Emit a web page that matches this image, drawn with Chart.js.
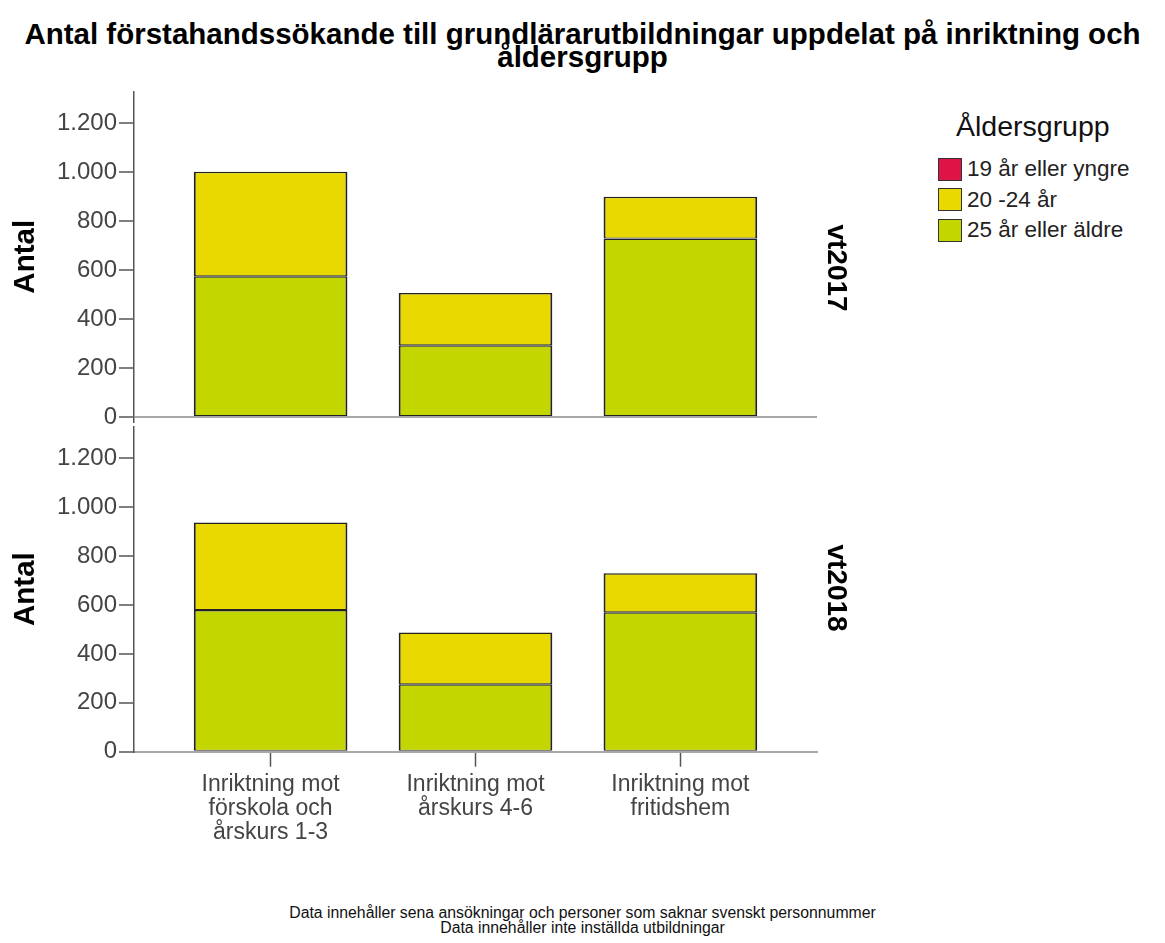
<!DOCTYPE html>
<html>
<head>
<meta charset="utf-8">
<script src="https://cdn.jsdelivr.net/npm/chart.js@4"></script>
<style>
  html, body { margin: 0; padding: 0; background: #fff; }
  body { width: 1165px; height: 943px; position: relative; overflow: hidden; font-family: "Liberation Sans", Arial, sans-serif; }
  .abs { position: absolute; }
  #title { left: 0; top: 22px; width: 1165px; text-align: center; font-weight: bold; font-size: 29.5px; line-height: 23px; color: #000; white-space: nowrap; }
  .facet { writing-mode: vertical-rl; font-weight: bold; font-size: 28px; color: #000; transform: translate(-50%, -50%); white-space: nowrap; }
  #legend { left: 938px; top: 110px; color: #222; }
  #legend .ltitle { font-size: 28.5px; margin-left: 18px; margin-bottom: 11px; color: #111; }
  #legend .item { display: flex; align-items: center; height: 30.5px; font-size: 22.5px; }
  #legend .box { width: 22px; height: 21px; border: 1px solid #333; margin-right: 5px; }
  #foot { left: 0; top: 905px; width: 1165px; text-align: center; font-size: 15.8px; line-height: 15px; color: #111; }
</style>
</head>
<body>
<div id="title" class="abs">Antal förstahandssökande till grundlärarutbildningar uppdelat på inriktning och<br>åldersgrupp</div>

<canvas id="top-chart" class="abs" style="left:0;top:60px"></canvas>
<canvas id="bottom-chart" class="abs" style="left:0;top:400px"></canvas>

<div class="abs facet" style="left:837px;top:268px">vt2017</div>
<div class="abs facet" style="left:837px;top:588px">vt2018</div>

<div id="legend" class="abs"></div>

<div id="foot" class="abs">Data innehåller sena ansökningar och personer som saknar svenskt personnummer<br>Data innehåller inte inställda utbildningar</div>

<script>
  // ─── Data ─────────────────────────────────────────────────────────────────
  const categories = [
    ["Inriktning mot", "förskola och", "årskurs 1-3"],
    ["Inriktning mot", "årskurs 4-6"],
    ["Inriktning mot", "fritidshem"],
  ];
  const ageGroups = ["19 år eller yngre", "20 -24 år", "25 år eller äldre"];
  const ageColors = ["#DE1446", "#E9D900", "#C4D600"];

  // vt2017
  const vt2017Young = [0, 0, 0];
  const vt2017Mid = [427, 214, 170];
  const vt2017Old = [575, 293, 730];
  // vt2018
  const vt2018Young = [0, 0, 0];
  const vt2018Mid = [357, 212, 160];
  const vt2018Old = [580, 276, 570];

  const yTicks = [0, 200, 400, 600, 800, 1000, 1200];
  const yMax = 1330;

  // ─── Helpers ──────────────────────────────────────────────────────────────
  const FONT = "'Liberation Sans', Arial, sans-serif";
  const toPoints = (arr) => arr.map((v, i) => ({ x: i, y: v }));
  const fmt = (v) => String(v).replace(/\B(?=(\d{3})+(?!\d))/g, ".");

  function datasets(young, mid, old) {
    // stacked bottom-to-top: old, mid, young
    const series = [[old, 2], [mid, 1], [young, 0]];
    return series.map(([vals, k]) => ({
      label: ageGroups[k],
      data: toPoints(vals),
      backgroundColor: ageColors[k],
      borderColor: "#222",
      borderWidth: { top: 1.5, bottom: 1, left: 2, right: 2 },
      borderSkipped: false,
      barPercentage: 0.75,
      categoryPercentage: 1,
    }));
  }

  function yScale(min) {
    return {
      type: "linear",
      stacked: true,
      min: min,
      max: yMax,
      afterFit: (s) => { s.width = 134; },
      afterBuildTicks: (s) => { s.ticks = yTicks.map((v) => ({ value: v })); },
      ticks: { font: { family: FONT, size: 24 }, color: "#444", padding: 2, callback: (v) => fmt(v) },
      grid: {
        tickLength: 15,
        tickColor: "#555",
        tickWidth: 1.5,
        drawOnChartArea: true,
        color: (ctx) => (ctx.tick && ctx.tick.value === 0 ? "#a8a8a8" : "rgba(0,0,0,0)"),
        lineWidth: 2,
      },
      border: { color: "#555", width: 1.5 },
      title: { display: true, text: "Antal", font: { family: FONT, size: 29.5, weight: "bold" }, color: "#000", padding: { top: 8, bottom: 0 } },
    };
  }

  function xScale(show) {
    return {
      type: "linear",
      stacked: true,
      min: -2 / 3,
      max: 2 + 2 / 3,
      offset: false,
      display: show,
      afterFit: (s) => { if (show) s.height = 128.3; },
      afterBuildTicks: (s) => { s.ticks = categories.map((c, i) => ({ value: i })); },
      ticks: {
        font: { family: FONT, size: 23, lineHeight: 1.045 },
        color: "#444",
        padding: 6,
        maxRotation: 0,
        autoSkip: false,
        callback: (v) => categories[v] || "",
      },
      grid: { offset: false, drawOnChartArea: false, tickLength: 15, tickColor: "#555", tickWidth: 1.5 },
      border: { color: "#a8a8a8", width: 2 },
    };
  }

  function makeChart(id, w, h, ds, opts) {
    const canvas = document.getElementById(id);
    canvas.width = w; canvas.height = h;
    canvas.style.width = w + "px"; canvas.style.height = h + "px";
    return new Chart(canvas, {
      type: "bar",
      data: { datasets: ds },
      options: {
        responsive: false,
        animation: false,
        devicePixelRatio: 1,
        layout: { padding: opts.padding },
        plugins: { legend: { display: false }, tooltip: { enabled: false } },
        scales: { x: opts.x, y: opts.y },
      },
    });
  }

  // ─── Charts ───────────────────────────────────────────────────────────────
  makeChart("top-chart", 830, 380, datasets(vt2017Young, vt2017Mid, vt2017Old), {
    padding: { top: 31.5, bottom: 18, left: 0, right: 13 },
    x: xScale(false),
    y: yScale(-20),
  });

  makeChart("bottom-chart", 830, 480, datasets(vt2018Young, vt2018Mid, vt2018Old), {
    padding: { top: 26.5, bottom: 0, left: 0, right: 13 },
    x: xScale(true),
    y: yScale(0),
  });

  // ─── Legend ───────────────────────────────────────────────────────────────
  const legend = document.getElementById("legend");
  legend.innerHTML = '<div class="ltitle">Åldersgrupp</div>' +
    ageGroups.map((g, i) => `<div class="item"><span class="box" style="background:${ageColors[i]}"></span>${g}</div>`).join("");
</script>
</body>
</html>
